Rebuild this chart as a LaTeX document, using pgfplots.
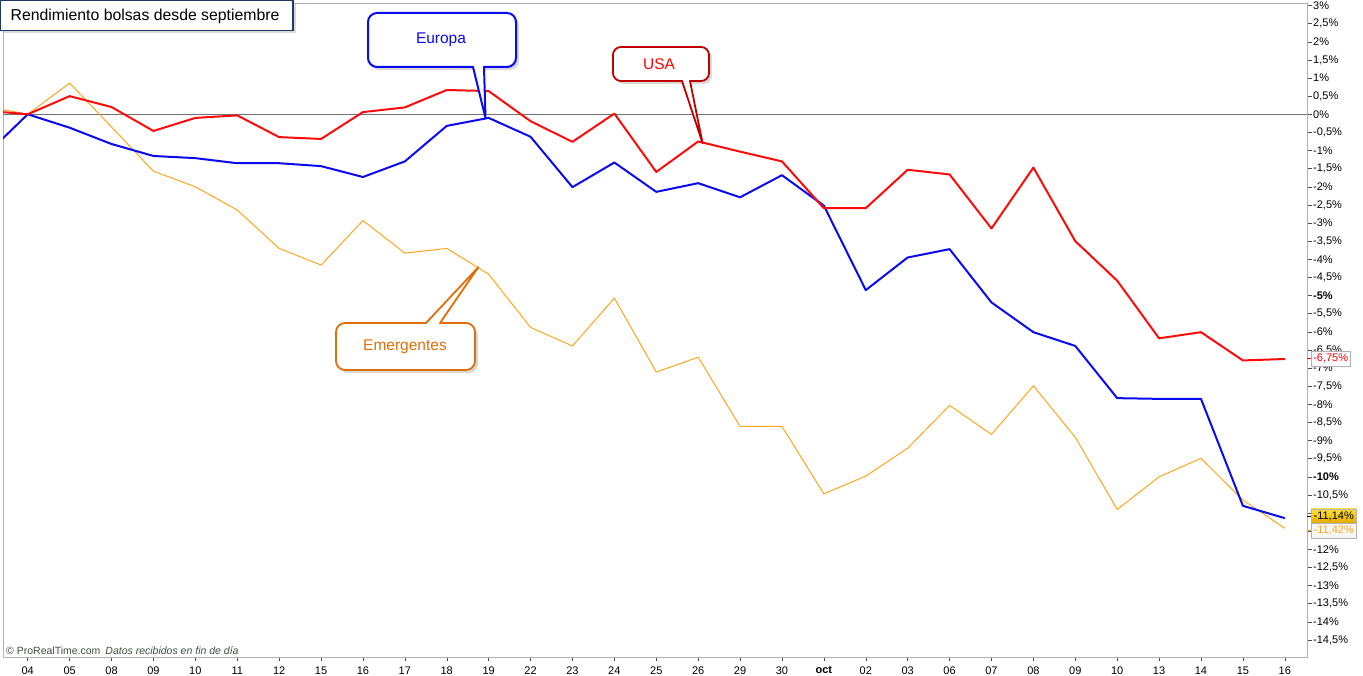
\documentclass[border=0pt]{standalone}
\usepackage{pgfplots}
\pgfplotsset{compat=1.18}
\usepackage{pgfplotstable}
\usepackage{fontspec}
\setmainfont{Liberation Sans}
\usetikzlibrary{shadows}

\definecolor{usared}{RGB}{255,10,10}
\definecolor{eurblue}{RGB}{10,10,240}
\definecolor{emgorange}{RGB}{255,165,30}
\definecolor{calloutred}{RGB}{192,0,0}
\definecolor{calloutorange}{RGB}{226,110,10}
\definecolor{titlenavy}{RGB}{31,56,100}
\definecolor{prtgreen}{RGB}{60,80,60}

\pgfplotstableread{
i usa eur emg
-1 0.10 -1.12 0.22
0 0 0 0
1 0.50 -0.37 0.86
2 0.20 -0.82 -0.35
3 -0.46 -1.15 -1.57
4 -0.10 -1.21 -2.00
5 -0.03 -1.35 -2.64
6 -0.63 -1.35 -3.70
7 -0.68 -1.43 -4.16
8 0.06 -1.73 -2.93
9 0.19 -1.30 -3.83
10 0.67 -0.32 -3.70
11 0.64 -0.10 -4.41
12 -0.19 -0.62 -5.88
13 -0.76 -2.01 -6.39
14 0.02 -1.33 -5.07
15 -1.59 -2.14 -7.11
16 -0.75 -1.90 -6.70
17 -1.03 -2.29 -8.61
18 -1.30 -1.68 -8.61
19 -2.59 -2.52 -10.47
20 -2.59 -4.85 -9.98
21 -1.53 -3.95 -9.21
22 -1.66 -3.72 -8.03
23 -3.15 -5.19 -8.83
24 -1.47 -6.01 -7.49
25 -3.50 -6.39 -8.91
26 -4.59 -7.83 -10.90
27 -6.18 -7.85 -10.00
28 -6.01 -7.85 -9.49
29 -6.79 -10.80 -10.64
30 -6.75 -11.14 -11.42
}\data

\begin{document}
\begin{tikzpicture}
\useasboundingbox (0,0) rectangle (1363pt,676pt);
\begin{axis}[
  at={(3pt,19pt)}, anchor=south west,
  scale only axis, width=1304pt, height=654pt,
  xmin=-0.59, xmax=30.53, ymin=-14.97, ymax=3.07,
  axis line style={draw=gray!60},
  tick align=outside, major tick length=4.5pt,
  tick style={draw=gray!60!black, line width=0.5pt},
  ytick pos=right, xtick pos=bottom,
  xtick={0,...,30},
  xticklabels={04,05,08,09,10,11,12,15,16,17,18,19,22,23,24,25,26,29,30,\textbf{oct},02,03,06,07,08,09,10,13,14,15,16},
  ytick={-14.5,-14,...,3},
  yticklabels={{-14,5\%},{-14\%},{-13,5\%},{-13\%},{-12,5\%},{-12\%},{-11,5\%},{-11\%},{-10,5\%},{\textbf{-10\%}},{-9,5\%},{-9\%},{-8,5\%},{-8\%},{-7,5\%},{-7\%},{-6,5\%},{-6\%},{-5,5\%},{\textbf{-5\%}},{-4,5\%},{-4\%},{-3,5\%},{-3\%},{-2,5\%},{-2\%},{-1,5\%},{-1\%},{-0,5\%},{0\%},{0,5\%},{1\%},{1,5\%},{2\%},{2,5\%},{3\%}},
  yticklabel style={font=\fontsize{11}{11}\selectfont, anchor=west, inner sep=0pt, xshift=1.5pt},
  xticklabel style={font=\fontsize{11}{11}\selectfont, inner sep=0pt, yshift=-5pt},
  clip=true,
]
\draw[gray!90!black, line width=0.8pt] (axis cs:-0.59,0) -- (axis cs:30.53,0);
\addplot[emgorange, line width=1pt, line join=round] table[x=i, y=emg] {\data};
\addplot[eurblue, line width=2pt, line join=round] table[x=i, y=eur] {\data};
\addplot[usared, line width=2pt, line join=round] table[x=i, y=usa] {\data};
\end{axis}

\begin{scope}[x=1pt, y=-1pt, shift={(0pt,676pt)}]
% title box
\draw[titlenavy, line width=1.4pt, fill=white, drop shadow={shadow xshift=3pt, shadow yshift=-3pt, opacity=0.3}] (0.7,0.7) rectangle (293,30.5);
\node[anchor=west, font=\fontsize{15.8}{15.8}\selectfont, inner sep=0pt] at (10.5,16) {Rendimiento bolsas desde septiembre};
% Europa callout
\draw[eurblue, line width=2pt, fill=white, drop shadow={shadow xshift=3pt, shadow yshift=-3pt, opacity=0.3}, rounded corners=9pt] (368,13) rectangle (516,67);
\fill[white] (474,64) -- (483,64) -- (483,70) -- (474,70) -- cycle;
\fill[white] (473,67) -- (485.5,118) -- (484,67) -- cycle;
\draw[eurblue, line width=2pt, line join=round] (473,67) -- (485.5,118) -- (484,67);
\node[eurblue, font=\fontsize{15.5}{15.5}\selectfont] at (441,40) {Europa};
% USA callout
\draw[calloutred, line width=1.8pt, fill=white, drop shadow={shadow xshift=3pt, shadow yshift=-3pt, opacity=0.3}, rounded corners=8pt] (613,47) rectangle (709,81);
\fill[white] (683,78) -- (689,78) -- (689,84) -- (683,84) -- cycle;
\fill[white] (682,81) -- (702.5,143) -- (690,81) -- cycle;
\draw[calloutred, line width=1.8pt, line join=round] (682,81) -- (702.5,143) -- (690,81);
\node[red, font=\fontsize{15.5}{15.5}\selectfont] at (659,64) {USA};
% Emergentes callout
\draw[calloutorange, line width=1.8pt, fill=white, drop shadow={shadow xshift=3pt, shadow yshift=-3pt, opacity=0.3}, rounded corners=9pt] (336,323) rectangle (475,370);
\fill[white] (427,320) -- (439,320) -- (439,326) -- (427,326) -- cycle;
\fill[white] (426,323) -- (478.5,267) -- (440,323) -- cycle;
\draw[calloutorange, line width=1.8pt, line join=round] (426,323) -- (478.5,267) -- (440,323);
\node[calloutorange, font=\fontsize{15.5}{15.5}\selectfont] at (405,347) {Emergentes};
% copyright
\node[anchor=west, prtgreen, font=\fontsize{10.5}{10.5}\selectfont, inner sep=0pt] at (6,651) {© ProRealTime.com\hspace{5pt}\textit{Datos recibidos en fin de día}};
% last value tags
\draw[usared, line width=1pt] (1307,359) -- (1311,359);
\node[anchor=west, draw=gray!60, fill=white, text=red, font=\fontsize{11}{11}\selectfont, inner sep=1.5pt, minimum height=15pt, minimum width=39pt] at (1311,358.5) {-6,75\%};
\draw[black, line width=1pt] (1307,517) -- (1311,517);
\node[anchor=west, draw=gray!60, top color={rgb,255:red,255;green,225;blue,60}, bottom color={rgb,255:red,225;green,170;blue,0}, text=black, font=\fontsize{11}{11}\selectfont, inner sep=1.5pt, minimum height=14.5pt, minimum width=45pt] at (1311,516) {-11,14\%};
\draw[emgorange, line width=1pt] (1307,531) -- (1311,531);
\node[anchor=west, draw=gray!60, fill=gray!6, text=emgorange, font=\fontsize{11}{11}\selectfont, inner sep=1.5pt, minimum height=14.5pt, minimum width=45pt] at (1311,530.5) {-11,42\%};
\end{scope}
\end{tikzpicture}
\end{document}
